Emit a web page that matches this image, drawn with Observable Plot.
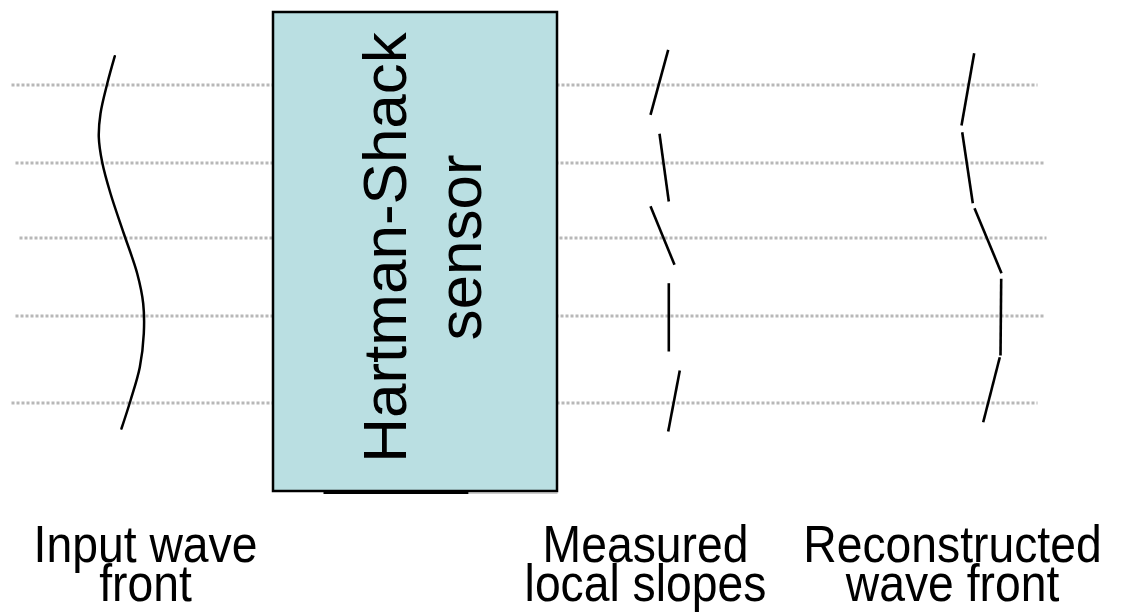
<!DOCTYPE html>
<html>
<head>
<meta charset="utf-8">
<script src="https://cdn.jsdelivr.net/npm/d3@7"></script>
<script src="https://cdn.jsdelivr.net/npm/@observablehq/plot@0.6"></script>
<style>
  html, body { margin: 0; padding: 0; background: #fff; }
  #chart svg { display: block; }
</style>
</head>
<body>
<div id="chart"></div>
<script>
// Horizontal dotted lines (lenslet rows)
const rowY  = [84.5, 162.5, 237.5, 315.5, 402.5];
const rowX1 = [11, 15, 19, 15, 11];
const rowX2 = [1037, 1043, 1046, 1043, 1037];

// Sensor box
const boxX = [273, 557];
const boxY = [12, 491];
const boxLabel = "Hartman-Shack\nsensor";
const boxLabelX = 419;
const boxLabelY = 247;

// Input wave front (smooth curve)
const waveX = [114.3, 106.7, 100, 98.3, 101.7, 110, 123.3, 136.7, 142.7, 143.3, 139.3, 130, 121];
const waveY = [55.7, 83.3, 113, 136.7, 161.7, 193, 233, 273, 303, 333, 366.7, 400, 428];

// Measured local slopes (separate segments)
const slopeX1 = [667.7, 659, 650, 668.3, 679.3];
const slopeY1 = [49.3, 133.3, 205.7, 282.7, 370];
const slopeX2 = [650, 668.3, 674, 668.3, 667.7];
const slopeY2 = [114.3, 201, 264.3, 351, 431];

// Reconstructed wave front (chained segments)
const reconX1 = [973.7, 961.7, 974, 1000.7, 999.3];
const reconY1 = [52.7, 131.7, 207.7, 278.3, 356.7];
const reconX2 = [961, 972.3, 1001, 1000, 982.7];
const reconY2 = [125, 202.7, 272.7, 355, 421.7];

// Bottom captions
const captions = ["Input wave\nfront", "Measured\nlocal slopes", "Reconstructed\nwave front"];
const captionX = [145, 645, 952];
const captionY = [533, 533, 533];

const rows = rowY.map((y, i) => ({y, x1: rowX1[i], x2: rowX2[i]}));
const wave = waveX.map((x, i) => ({x, y: waveY[i]}));
const slopes = slopeX1.map((x, i) => ({x1: x, y1: slopeY1[i], x2: slopeX2[i], y2: slopeY2[i]}));
const recon = reconX1.map((x, i) => ({x1: x, y1: reconY1[i], x2: reconX2[i], y2: reconY2[i]}));
const caps = captions.map((t, i) => ({t, x: captionX[i], y: captionY[i]}));

const chart = Plot.plot({
  width: 1124,
  height: 616,
  margin: 0,
  x: {domain: [0, 1124], axis: null},
  y: {domain: [0, 616], reverse: true, axis: null},
  style: {background: "#fff", fontFamily: "'Liberation Sans', Arial, sans-serif"},
  marks: [
    Plot.link(rows, {x1: "x1", x2: "x2", y1: "y", y2: "y", stroke: "#b8b8b8", strokeWidth: 3, strokeDasharray: "3,2"}),
    Plot.rect([{x1: boxX[0], x2: boxX[1], y1: boxY[0], y2: boxY[1]}], {x1: "x1", x2: "x2", y1: "y1", y2: "y2", fill: "#badfe2", stroke: "#000", strokeWidth: 2.5}),
    Plot.link([{x1: 323, x2: 468, y: 492.5}], {x1: "x1", x2: "x2", y1: "y", y2: "y", stroke: "#000", strokeWidth: 2}),
    Plot.link([{x1: 468, x2: 557, y: 492.5}], {x1: "x1", x2: "x2", y1: "y", y2: "y", stroke: "#999", strokeWidth: 1}),
    Plot.text([boxLabel], {x: [boxLabelX], y: [boxLabelY], text: d => d, rotate: -90, fontSize: 62, lineHeight: 1.2, fill: "#000", textAnchor: "middle", lineAnchor: "middle"}),
    Plot.line(wave, {x: "x", y: "y", curve: "catmull-rom", stroke: "#000", strokeWidth: 2.5}),
    Plot.link(slopes, {x1: "x1", y1: "y1", x2: "x2", y2: "y2", stroke: "#000", strokeWidth: 2.6}),
    Plot.link(recon, {x1: "x1", y1: "y1", x2: "x2", y2: "y2", stroke: "#000", strokeWidth: 2.6}),
    Plot.text(caps, {x: "x", y: "y", text: "t", fontSize: 52, lineHeight: 0.76, lineAnchor: "top", textAnchor: "middle", fill: "#000"})
  ]
});

// Captions in the reference are horizontally condensed: squeeze them.
const textGroups = chart.querySelectorAll('g[aria-label="text"]');
const capGroup = textGroups[textGroups.length - 1];
capGroup.querySelectorAll("text").forEach(t => {
  const tr = t.getAttribute("transform") || "";
  t.setAttribute("transform", tr + " scale(0.89,1)");
});

document.getElementById("chart").appendChild(chart);
</script>
</body>
</html>
